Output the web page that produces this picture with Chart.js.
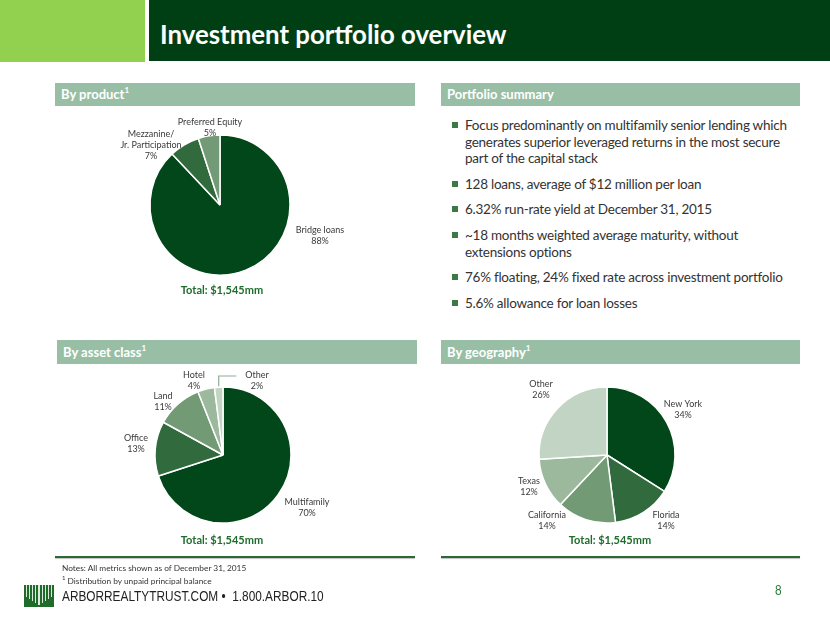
<!DOCTYPE html>
<html><head><meta charset="utf-8">
<script src="https://cdn.jsdelivr.net/npm/chart.js@4.4.0/dist/chart.umd.min.js"></script>
<style>
html,body{margin:0;padding:0;}
body{width:830px;height:623px;position:relative;overflow:hidden;background:#fff;font-family:Lato,"Open Sans",sans-serif;}
.abs{position:absolute;}
#hdrL{left:0;top:0;width:145px;height:62px;background:#92d050;}
#hdrR{left:149px;top:0;width:681px;height:61px;background:#003f14;}
#title{left:160px;top:19px;color:#fff;font-weight:700;font-size:25.8px;white-space:nowrap;}
.bar{height:23px;background:#98bfa6;color:#fff;font-weight:700;font-size:13px;line-height:23px;padding-left:6px;box-sizing:border-box;white-space:nowrap;}
.bar sup{font-size:8px;vertical-align:6px;line-height:0;}
.total{color:#1f6d2c;font-weight:700;font-size:11px;white-space:nowrap;transform:translateX(-50%);}
.item{left:452px;color:#333;font-size:13.5px;letter-spacing:-0.25px;line-height:16.7px;white-space:nowrap;}
.item .sq{position:absolute;left:0;top:5px;width:6px;height:6px;background:#3b7a45;}
.item .tx{position:absolute;left:13px;top:0;}
canvas{position:absolute;}
.fline{top:556px;height:2px;background:#2b6b33;box-shadow:0 1px 1px rgba(0,0,0,0.25);}
.note{left:62px;font-size:8.3px;color:#333;white-space:nowrap;}
#site{left:62px;top:588px;font-family:"Liberation Sans",Arial,sans-serif;font-size:14px;color:#222;white-space:nowrap;transform:scaleX(0.845);transform-origin:0 0;}
#page{left:775px;top:582px;font-family:"Liberation Sans",Arial,sans-serif;font-size:14px;color:#2e7d3a;transform:scaleX(0.85);transform-origin:0 0;}
</style></head>
<body>
<div class="abs" id="hdrL"></div>
<div class="abs" id="hdrR"></div>
<div class="abs" id="title">Investment portfolio overview</div>

<div class="abs bar" style="left:55px;top:83px;width:360px;">By product<sup>1</sup></div>
<div class="abs bar" style="left:441px;top:83px;width:359px;">Portfolio summary</div>
<div class="abs bar" style="left:57px;top:340px;width:360px;height:24px;line-height:24px;">By asset class<sup>1</sup></div>
<div class="abs bar" style="left:441px;top:340px;width:359px;height:24px;line-height:24px;">By geography<sup>1</sup></div>

<canvas id="c1" width="340" height="190" style="left:50px;top:110px;"></canvas>
<canvas id="c2" width="340" height="180" style="left:53px;top:365px;"></canvas>
<canvas id="c3" width="340" height="180" style="left:437px;top:365px;"></canvas>

<div class="abs total" style="left:222px;top:283px;" id="t1"></div>
<div class="abs total" style="left:222px;top:533px;" id="t2"></div>
<div class="abs total" style="left:610px;top:533px;" id="t3"></div>

<div id="bullets"></div>

<div class="abs fline" style="left:55px;width:360px;"></div>
<div class="abs fline" style="left:441px;width:359px;"></div>
<div class="abs note" style="top:563px;">Notes: All metrics shown as of December 31, 2015</div>
<div class="abs note" style="top:574px;"><sup style="font-size:6px">1</sup> Distribution by unpaid principal balance</div>
<svg class="abs" style="left:24px;top:585px;" width="30" height="22" viewBox="0 0 30 22">
  <rect x="0" y="0" width="30" height="22" fill="#1e6b2a"/>
  <g fill="#ffffff" opacity="0.85">
    <rect x="2" y="0" width="1" height="12"/><rect x="5" y="0" width="1" height="14"/><rect x="8" y="0" width="1" height="16"/>
    <rect x="11" y="0" width="1" height="18"/><rect x="14" y="0" width="2" height="20"/>
    <rect x="18" y="0" width="1" height="18"/><rect x="21" y="0" width="1" height="16"/><rect x="24" y="0" width="1" height="14"/><rect x="27" y="0" width="1" height="12"/>
  </g>
</svg>
<div class="abs" id="site">ARBORREALTYTRUST.COM •&nbsp; 1.800.ARBOR.10</div>
<div class="abs" id="page">8</div>

<script>
// ---------- data ----------
const productLabels = [["Bridge loans"], ["Mezzanine/", "Jr. Participation"], ["Preferred Equity"]];
const productValues = [88, 7, 5];
const assetLabels = [["Multifamily"], ["Office"], ["Land"], ["Hotel"], ["Other"]];
const assetValues = [70, 13, 11, 4, 2];
const geoLabels = [["New York"], ["Florida"], ["California"], ["Texas"], ["Other"]];
const geoValues = [34, 14, 14, 12, 26];
const totalText = "Total: $1,545mm";
const summaryItems = [
  ["Focus predominantly on multifamily senior lending which", "generates superior leveraged returns in the most secure", "part of the capital stack"],
  ["128 loans, average of $12 million per loan"],
  ["6.32% run-rate yield at December 31, 2015"],
  ["~18 months weighted average maturity, without", "extensions options"],
  ["76% floating, 24% fixed rate across investment portfolio"],
  ["5.6% allowance for loan losses"]
];

// ---------- styles / layout ----------
const greens5 = ["#01471a", "#316a3d", "#729a75", "#9cb99d", "#c2d4c3"];
const greens3 = ["#01471a", "#316a3d", "#739a77"];
const itemTops = [117, 176, 201, 227, 269, 295];
// label block centres relative to pie centre (px)
const productOffsets = [[100, 31], [-69, -60], [-10, -77.5]];
const assetOffsets = [[84, 52.5], [-87, -11.5], [-60, -53.5], [-29, -74.5], [34, -74.5]];
const geoOffsets = [[76, -45.5], [59, 65.5], [-60, 65.5], [-78, 31.5], [-66, -65.5]];

document.getElementById('t1').textContent = totalText;
document.getElementById('t2').textContent = totalText;
document.getElementById('t3').textContent = totalText;

const bl = document.getElementById('bullets');
summaryItems.forEach((lines, i) => {
  const d = document.createElement('div');
  d.className = 'abs item';
  d.style.top = itemTops[i] + 'px';
  d.innerHTML = '<span class="sq"></span><span class="tx">' + lines.join('<br>') + '</span>';
  bl.appendChild(d);
});

const sliceLabels = {
  id: 'sliceLabels',
  afterDatasetsDraw(chart, args, opts) {
    const ctx = chart.ctx;
    const meta = chart.getDatasetMeta(0);
    const ds = chart.data.datasets[0];
    ctx.save();
    ctx.font = '9px Lato';
    ctx.fillStyle = '#3a3a3a';
    ctx.textAlign = 'center';
    ctx.textBaseline = 'middle';
    const lh = 11;
    meta.data.forEach((arc, i) => {
      const lines = chart.data.labels[i].concat([ds.data[i] + '%']);
      const off = opts.offsets[i];
      const x = arc.x + off[0], y = arc.y + off[1];
      const y0 = y - (lines.length - 1) * lh / 2;
      lines.forEach((t, j) => ctx.fillText(t, x, y0 + j * lh));
      if (opts.leader === i) {
        const mid = (arc.startAngle + arc.endAngle) / 2;
        const px = arc.x + Math.cos(mid) * arc.outerRadius;
        const py = arc.y + Math.sin(mid) * arc.outerRadius;
        const w = ctx.measureText(lines[0]).width;
        ctx.strokeStyle = '#8fae95';
        ctx.lineWidth = 1.2;
        ctx.beginPath();
        ctx.moveTo(px, py - 1);
        ctx.lineTo(px, y0 + 1);
        ctx.lineTo(x - w / 2 - 9, y0 + 1);
        ctx.stroke();
      }
    });
    ctx.restore();
  }
};

function pie(id, labels, values, colors, radius, offsets, leader) {
  return new Chart(document.getElementById(id), {
    type: 'pie',
    data: { labels: labels, datasets: [{ data: values, backgroundColor: colors, borderColor: '#ffffff', borderWidth: 1.5 }] },
    options: {
      responsive: false, animation: false, radius: radius,
      layout: { padding: 0 },
      plugins: { legend: { display: false }, tooltip: { enabled: false },
        sliceLabels: { offsets: offsets, leader: leader } }
    },
    plugins: [sliceLabels]
  });
}
pie('c1', productLabels, productValues, greens3, 70, productOffsets, -1);
pie('c2', assetLabels, assetValues, greens5, 68, assetOffsets, 4);
pie('c3', geoLabels, geoValues, greens5, 68, geoOffsets, -1);
</script>
</body></html>
